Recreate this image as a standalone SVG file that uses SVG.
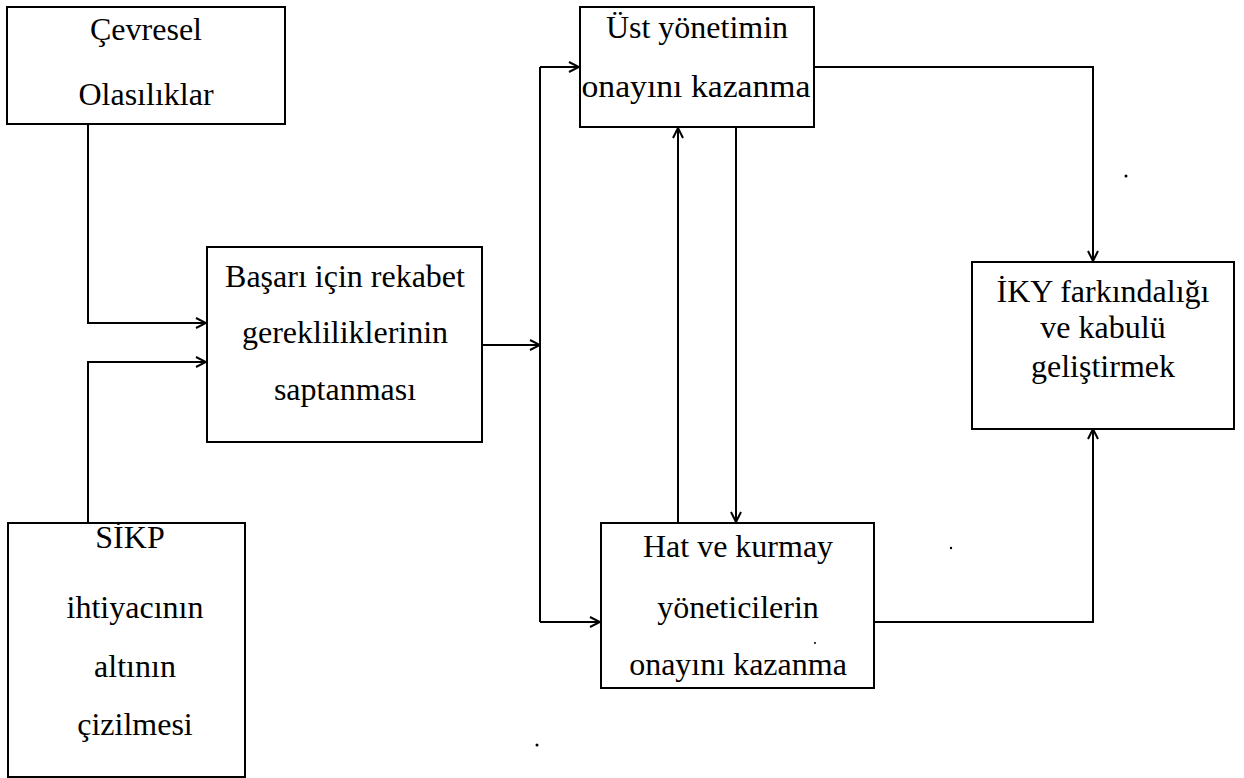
<svg xmlns="http://www.w3.org/2000/svg" width="1244" height="778" viewBox="0 0 1244 778">
  <style>
    .box { fill: #ffffff; stroke: #000000; stroke-width: 2; }
    .lbl { font-family: "Liberation Serif", "Times New Roman", serif; font-size: 32px; fill: #000000; text-anchor: middle; }
    .wire { fill: none; stroke: #000000; stroke-width: 2; }
    .speck { fill: #000000; }
  </style>
  <defs>
    <marker id="arrow" viewBox="0 0 12 12" refX="11" refY="6" markerWidth="12" markerHeight="12" markerUnits="userSpaceOnUse" orient="auto">
      <path d="M1,1 L11,6 L1,11" fill="none" stroke="#000000" stroke-width="2"/>
    </marker>
  </defs>
  <rect width="1244" height="778" fill="#ffffff"/>

  <g id="connectors">
    <path class="wire" d="M88,124 V323 H206" marker-end="url(#arrow)"/>
    <path class="wire" d="M88,523 V362 H206" marker-end="url(#arrow)"/>
    <path class="wire" d="M482,345 H540" marker-end="url(#arrow)"/>
    <path class="wire" d="M540,67 V622"/>
    <path class="wire" d="M540,67 H579" marker-end="url(#arrow)"/>
    <path class="wire" d="M540,622 H600" marker-end="url(#arrow)"/>
    <path class="wire" d="M678,523 V128" marker-end="url(#arrow)"/>
    <path class="wire" d="M736,127 V522" marker-end="url(#arrow)"/>
    <path class="wire" d="M814,67 H1093 V261" marker-end="url(#arrow)"/>
    <path class="wire" d="M874,622 H1093 V429" marker-end="url(#arrow)"/>
  </g>

  <g id="cevresel">
    <rect class="box" x="7" y="7" width="278" height="117"/>
    <text class="lbl" x="146" y="40">Çevresel</text>
    <text class="lbl" x="146" y="105">Olasılıklar</text>
  </g>

  <g id="basari">
    <rect class="box" x="207" y="247" width="275" height="195"/>
    <text class="lbl" x="345" y="287">Başarı için rekabet</text>
    <text class="lbl" x="345" y="343">gerekliliklerinin</text>
    <text class="lbl" x="345" y="400">saptanması</text>
  </g>

  <g id="sikp">
    <rect class="box" x="8" y="523" width="237" height="254"/>
    <text class="lbl" x="130" y="548">SİKP</text>
    <text class="lbl" x="135" y="618">ihtiyacının</text>
    <text class="lbl" x="135" y="677">altının</text>
    <text class="lbl" x="135" y="735">çizilmesi</text>
  </g>

  <g id="ust">
    <rect class="box" x="580" y="7" width="234" height="120"/>
    <text class="lbl" x="697" y="38">Üst yönetimin</text>
    <text class="lbl" x="696" y="97" textLength="229" lengthAdjust="spacingAndGlyphs">onayını kazanma</text>
  </g>

  <g id="hat">
    <rect class="box" x="601" y="523" width="273" height="165"/>
    <text class="lbl" x="738" y="557">Hat ve kurmay</text>
    <text class="lbl" x="738" y="618">yöneticilerin</text>
    <text class="lbl" x="738" y="675">onayını kazanma</text>
  </g>

  <g id="iky">
    <rect class="box" x="972" y="262" width="262" height="167"/>
    <text class="lbl" x="1103" y="302">İKY farkındalığı</text>
    <text class="lbl" x="1103" y="338">ve kabulü</text>
    <text class="lbl" x="1103" y="377">geliştirmek</text>
  </g>

  <g id="specks">
    <circle class="speck" cx="1126" cy="176" r="1.5"/>
    <circle class="speck" cx="951" cy="548" r="1.2"/>
    <circle class="speck" cx="815" cy="643" r="1"/>
    <circle class="speck" cx="537" cy="745" r="1.5"/>
  </g>
</svg>
